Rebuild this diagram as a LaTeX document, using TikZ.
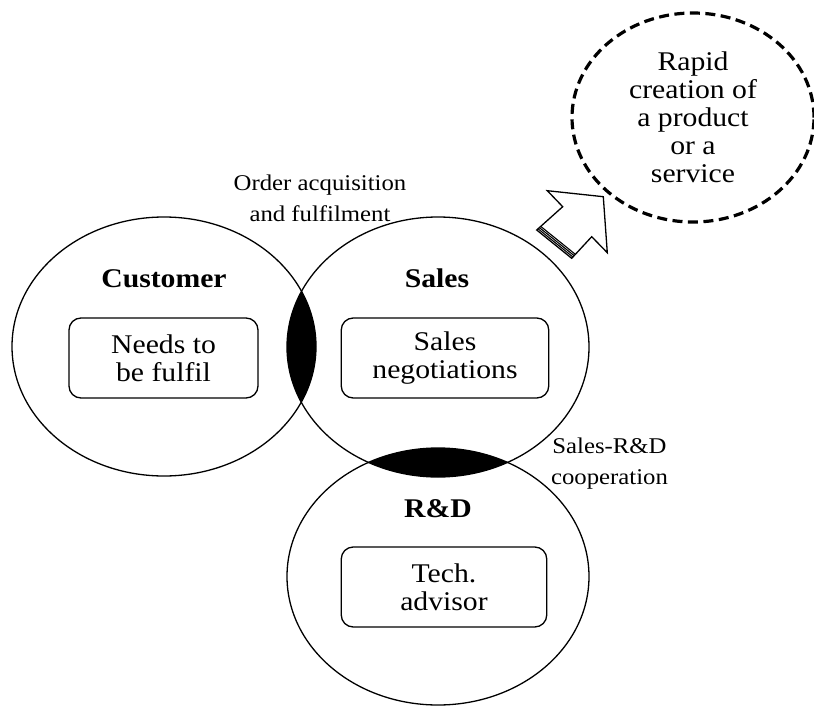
\documentclass[tikz,border=0pt]{standalone}
\usepackage{fontspec}
\setmainfont{Liberation Serif}
\usetikzlibrary{shapes.geometric,calc}
\newcommand\hs[1]{\scalebox{1.1}[1]{#1}}
\begin{document}
\begin{tikzpicture}[x=1pt,y=-1pt,line width=1.3pt,
  circ/.style={ellipse,draw,inner sep=0pt,minimum width=#1},
  tbox/.style={draw,rounded corners=12pt,inner sep=0pt,align=center,
    font=\fontsize{27}{28}\selectfont},
  head/.style={font=\fontsize{27}{28}\selectfont\bfseries,inner sep=0pt,anchor=base},
  small/.style={font=\fontsize{22.5}{31}\selectfont,inner sep=0pt,align=center,anchor=north},
  stripe/.style={line width=1.1pt}]
\useasboundingbox (0,0) rectangle (814,706);
% overlaps
\begin{scope}
  \clip (164,346.5) ellipse [x radius=152, y radius=129.5];
  \fill (438,347) ellipse [x radius=151, y radius=130];
\end{scope}
\begin{scope}
  \clip (438,347) ellipse [x radius=151, y radius=130];
  \fill (438,576.5) ellipse [x radius=151, y radius=128.5];
\end{scope}
% circles
\node[circ=304pt,minimum height=259pt] (cust) at (164,346.5) {};
\node[circ=302pt,minimum height=260pt] (sales) at (438,347) {};
\node[circ=302pt,minimum height=257pt] (rd) at (438,576.5) {};
% headings
\node[head] (custh) at (164,287) {\hs{Customer}};
\node[head] (salesh) at (437,287) {\hs{Sales}};
\node[head] (rdh) at (438,517) {\hs{R\&D}};
% boxes
\node[tbox,minimum width=189pt,minimum height=80pt] (needs) at (163.5,358) {\hs{Needs to}\\\hs{be fulfil}};
\node[tbox,minimum width=207.5pt,minimum height=80pt] (neg) at (445,358) {\hs{Sales}\\\hs{negotiations}};
\node[tbox,minimum width=205.5pt,minimum height=80pt] (tech) at (444,587) {\hs{Tech.}\\\hs{advisor}};
% small labels
\node[small] (order) at (320,174.6) {\hs{Order acquisition}\\\hs{and fulfilment}};
\node[small] (coop) at (609.5,437.6) {\hs{Sales-R\&D}\\\hs{cooperation}};
% outcome
\node[ellipse,draw,line width=3.2pt,dash pattern=on 10pt off 5.5pt,inner sep=0pt,
  minimum width=242pt,minimum height=209pt,align=center,
  font=\fontsize{27}{28}\selectfont] (rapid) at (693,117.5)
  {\hs{Rapid}\\\hs{creation of}\\\hs{a product}\\\hs{or a}\\\hs{service}};
% block arrow
\coordinate (T1) at (536.7,230);
\coordinate (N1) at (562.7,206.7);
\coordinate (H1) at (547.3,190.7);
\coordinate (tip) at (603.3,196.7);
\coordinate (H2) at (607.3,252.7);
\coordinate (N2) at (591.7,236.7);
\coordinate (T2) at (571.7,258.3);
\draw[fill=white,line join=miter] (T1) -- (N1) -- (H1) -- (tip) -- (H2) -- (N2) -- (T2) -- cycle;
\foreach \d in {1.8,3.6,5.4}
  \draw[stripe] ($(T1)!\d pt!(N1)$) -- ($(T2)!\d pt!(N2)$);
\end{tikzpicture}
\end{document}
